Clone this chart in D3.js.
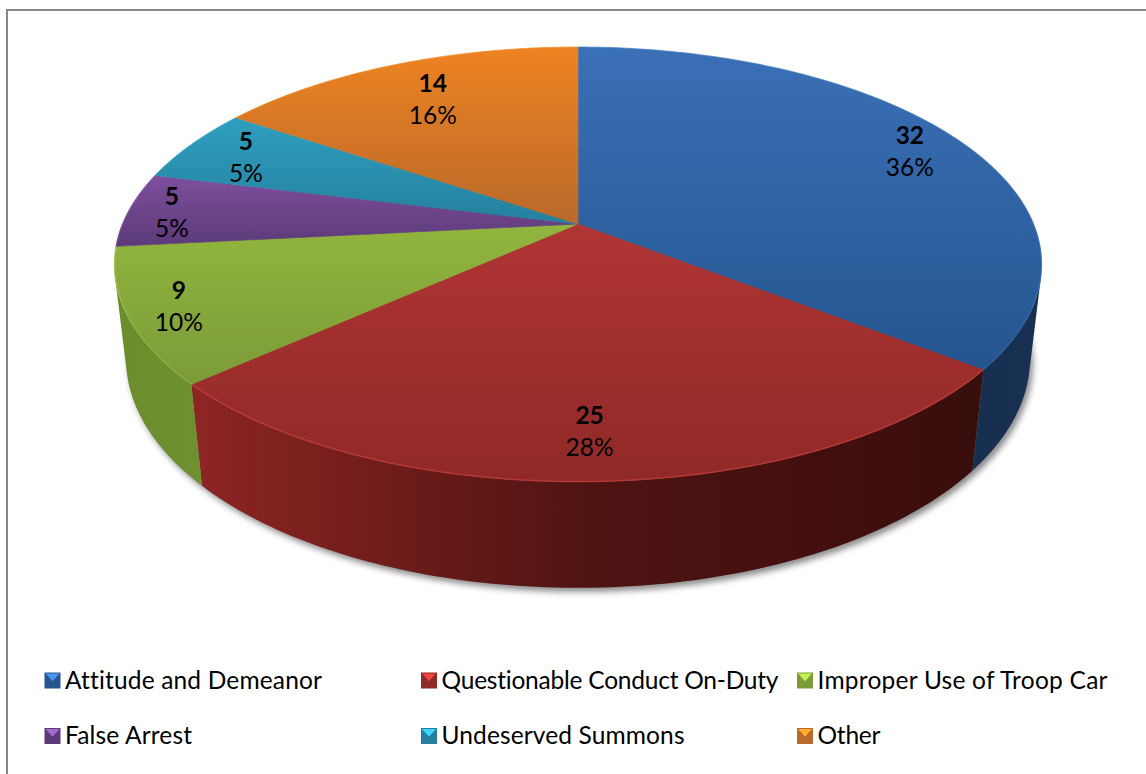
<!DOCTYPE html>
<html>
<head>
<meta charset="utf-8">
<script src="https://cdn.jsdelivr.net/npm/d3@7/dist/d3.min.js"></script>
<style>
html,body{margin:0;padding:0;background:#fff;overflow:hidden}
svg{display:block}
text{font-family:Lato,"Open Sans",sans-serif;fill:#000;font-variant-ligatures:none}
</style>
</head>
<body>
<script>
// ---- data ----
const categories = ["Attitude and Demeanor","Questionable Conduct On-Duty","Improper Use of Troop Car","False Arrest","Undeserved Summons","Other"];
const counts = [32,25,9,5,5,14];
const percentLabels = ["36%","28%","10%","5%","5%","16%"];
// ---- styles ----
const topLight = ["#3a70b6","#b03533","#92b53e","#7d4f9c","#2f9fbf","#ee8322"];
const topDark  = ["#24558f","#8f2927","#7c9b38","#5c3a78","#24809e","#b9692a"];
const wallLeft = ["#183052","#8c2523","#6c8d2c","#4a2d60","#1c6880","#a05a20"];
const wallRight= ["#11233c","#380e0d","#6f9030","#4a2d60","#1c6880","#a05a20"];
const labelRadius = [0.865,0.83,0.89,0.904,0.849,0.764];
const labelNudgeX = [1,-4,-2,0,0,0];
const legendTextWidth = [257,337,290,127,243,63];
const rimOpacity = [0.15,0.55,0.25,0.2,0.2,0.2];
const W = 1146, H = 774;

// perspective projection of the unit disc (angle clockwise from 12 o'clock)
const cx = 578, apexY = 224, halfW = 455.6, persp = -0.186, tilt = 168.2, depthW = 0.025, depthY = 101;
function project(angle, r, h){
  const u = r*Math.sin(angle), v = -r*Math.cos(angle);
  const w = 1 + persp*v + depthW*h;
  return [cx + halfW*u/w, (tilt*v + apexY + depthY*h)/w];
}
const line = d3.line();
const pie = d3.pie().sort(null).value(d=>d);
const arcs = pie(counts);
const STEP = Math.PI/180;
function anglesOf(a){
  const n = Math.max(2, Math.ceil((a.endAngle-a.startAngle)/STEP));
  return d3.range(n+1).map(i=>a.startAngle+(a.endAngle-a.startAngle)*i/n);
}
const quad = (t0,t1)=>[project(t0,1,0),project(t1,1,0),project(t1,1,1),project(t0,1,1)];
const frontSign = Math.sign(d3.polygonArea(quad(Math.PI-0.01,Math.PI+0.01)));

const svg = d3.select("body").append("svg").attr("width",W).attr("height",H);
const defs = svg.append("defs");
defs.append("filter").attr("id","blur").attr("x","-10%").attr("y","-10%").attr("width","120%").attr("height","120%")
  .append("feGaussianBlur").attr("stdDeviation",3);
defs.append("filter").attr("id","soft").attr("x","-5%").attr("y","-5%").attr("width","110%").attr("height","110%")
  .append("feGaussianBlur").attr("stdDeviation",0.6);

arcs.forEach((a,i)=>{
  const ys = anglesOf(a).map(t=>project(t,1,0)[1]).concat(apexY);
  const y1 = i===1 ? apexY : d3.min(ys), y2 = d3.max(ys);
  const g = defs.append("linearGradient").attr("id","top"+i).attr("gradientUnits","userSpaceOnUse")
    .attr("x1",0).attr("x2",0).attr("y1",y1).attr("y2",y2);
  g.append("stop").attr("offset",0).attr("stop-color",topLight[i]);
  g.append("stop").attr("offset",1).attr("stop-color",topDark[i]);
  const xs = anglesOf(a).map(t=>project(t,1,1)[0]);
  const wg = defs.append("linearGradient").attr("id","wall"+i).attr("gradientUnits","userSpaceOnUse")
    .attr("y1",0).attr("y2",0).attr("x1",d3.min(xs)).attr("x2",d3.max(xs));
  if(i===1){
    wg.append("stop").attr("offset",0).attr("stop-color","#8c2523");
    wg.append("stop").attr("offset",0.25).attr("stop-color","#6e1c1a");
    wg.append("stop").attr("offset",0.5).attr("stop-color","#4f1412");
    wg.append("stop").attr("offset",0.8).attr("stop-color","#430f0e");
    wg.append("stop").attr("offset",1).attr("stop-color",wallRight[i]);
  } else {
    wg.append("stop").attr("offset",0).attr("stop-color",i===0?wallRight[i]:wallLeft[i]);
    wg.append("stop").attr("offset",1).attr("stop-color",i===0?wallLeft[i]:wallRight[i]);
  }
});

// frame (top and left rules only)
svg.append("rect").attr("x",6).attr("y",9).attr("width",W-6).attr("height",2).attr("fill","#878787");
svg.append("rect").attr("x",6).attr("y",9).attr("width",2).attr("height",H-9).attr("fill","#878787");

// soft shadow under the pie
svg.append("path")
  .attr("d",line(anglesOf({startAngle:0,endAngle:2*Math.PI}).map(t=>project(t,1,1)))+"Z")
  .attr("transform","translate(3,4)")
  .attr("fill","#8a8a8a").attr("filter","url(#blur)");

// outer walls: only the front-facing strips, one path per slice
const walls = svg.append("g");
arcs.forEach((a,i)=>{
  const quads = d3.pairs(anglesOf(a)).map(([t0,t1])=>quad(t0,t1))
    .filter(q=>Math.sign(d3.polygonArea(q))===frontSign);
  if(!quads.length) return;
  walls.append("path").attr("d",quads.map(q=>line(q)+"Z").join(""))
    .attr("fill",`url(#wall${i})`);
});

// top faces
const faces = svg.append("g");
faces.selectAll("path").data(arcs).join("path")
  .attr("d",a=>line([[cx,apexY],...anglesOf(a).map(t=>project(t,1,0))])+"Z")
  .attr("fill",(a,i)=>`url(#top${i})`)
  .attr("stroke",(a,i)=>`url(#top${i})`).attr("stroke-width",0.6);

// thin rim highlight on the edge
const rim = svg.append("g").attr("filter","url(#soft)");
rim.selectAll("path").data(arcs).join("path")
  .attr("d",a=>line(anglesOf(a).map(t=>project(t,0.999,0))))
  .attr("fill","none")
  .attr("stroke",(a,i)=>d3.color(topLight[i]).brighter(0.5))
  .attr("stroke-opacity",(a,i)=>rimOpacity[i]).attr("stroke-width",1.5);

// data labels
const labels = svg.append("g").attr("text-anchor","middle").style("font-size","24.5px");
arcs.forEach((a,i)=>{
  const [x,y] = project((a.startAngle+a.endAngle)/2,labelRadius[i],0);
  labels.append("text").attr("x",x+labelNudgeX[i]).attr("y",y-6).style("font-weight",700).text(counts[i]);
  labels.append("text").attr("x",x+labelNudgeX[i]).attr("y",y+26).text(percentLabels[i]);
});

// legend
const legendX = d3.scaleOrdinal().domain([0,1,2]).range([44.5,421,797]);
const legendY = d3.scaleOrdinal().domain([0,1]).range([672.5,728]);
const legend = svg.append("g");
categories.forEach((c,i)=>{
  const x = legendX(i%3), y = legendY(Math.floor(i/3)), s = 16;
  const g = legend.append("g").attr("transform",`translate(${x},${y})`);
  g.append("rect").attr("width",s).attr("height",s).attr("fill",topDark[i]);
  g.append("path").attr("d",line([[1,1],[s-1,1],[s/2,s*0.55]])+"Z").attr("fill",d3.color(topLight[i]).brighter(0.8));
  g.append("text").attr("x",s+4.5).attr("y",16).style("font-size","24.5px")
    .attr("textLength",legendTextWidth[i]).attr("lengthAdjust","spacing").text(c);
});
</script>
</body>
</html>
